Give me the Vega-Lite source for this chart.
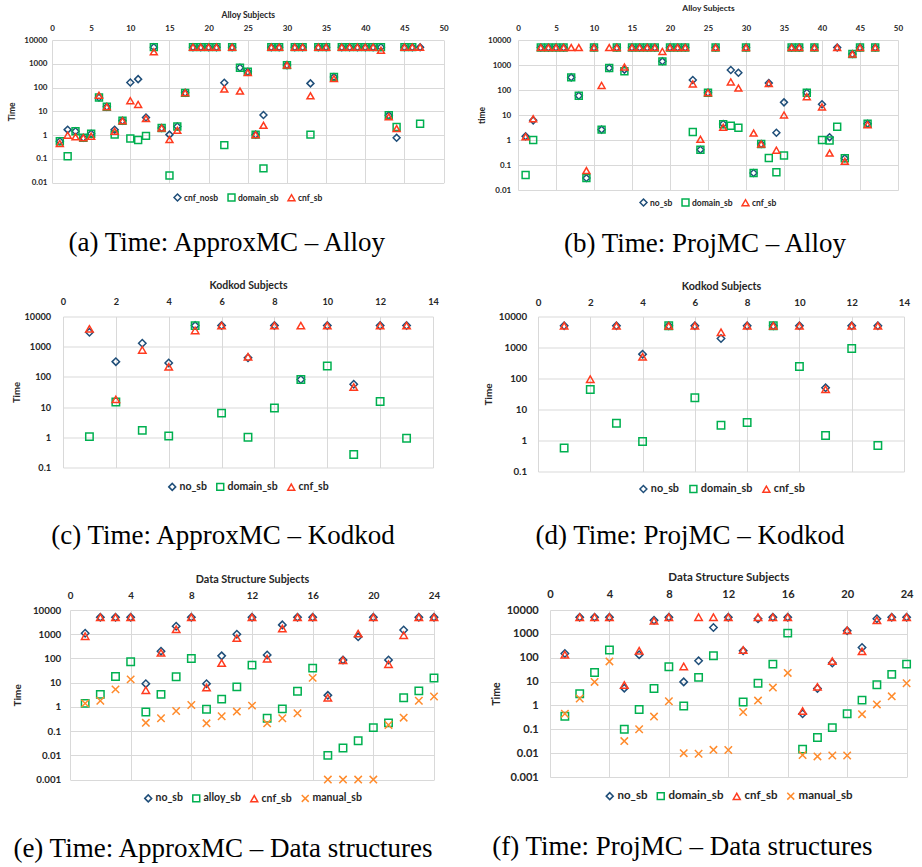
{
"$schema": "https://vega.github.io/schema/vega-lite/v6.json",
"background": "white",
"padding": {"left": 0, "top": 3, "right": 5, "bottom": 5},
"datasets": {
"a": [
{"x":1,"s":"cnf_nosb","t":0.55},{"x":2,"s":"cnf_nosb","t":1.7},{"x":3,"s":"cnf_nosb","t":1.45},{"x":4,"s":"cnf_nosb","t":0.78},{"x":5,"s":"cnf_nosb","t":1.15},{"x":6,"s":"cnf_nosb","t":38},{"x":7,"s":"cnf_nosb","t":15.5},{"x":8,"s":"cnf_nosb","t":1.7},{"x":9,"s":"cnf_nosb","t":4},{"x":10,"s":"cnf_nosb","t":163},{"x":11,"s":"cnf_nosb","t":226},{"x":12,"s":"cnf_nosb","t":5.5},{"x":13,"s":"cnf_nosb","t":5000},{"x":14,"s":"cnf_nosb","t":2},{"x":15,"s":"cnf_nosb","t":1.05},{"x":16,"s":"cnf_nosb","t":2.3},{"x":17,"s":"cnf_nosb","t":60},{"x":18,"s":"cnf_nosb","t":5000},{"x":19,"s":"cnf_nosb","t":5000},{"x":20,"s":"cnf_nosb","t":5000},{"x":21,"s":"cnf_nosb","t":5000},{"x":22,"s":"cnf_nosb","t":160},{"x":23,"s":"cnf_nosb","t":5000},{"x":24,"s":"cnf_nosb","t":680},{"x":25,"s":"cnf_nosb","t":460},{"x":26,"s":"cnf_nosb","t":1.05},{"x":27,"s":"cnf_nosb","t":7},{"x":28,"s":"cnf_nosb","t":5000},{"x":29,"s":"cnf_nosb","t":5000},{"x":30,"s":"cnf_nosb","t":880},{"x":31,"s":"cnf_nosb","t":5000},{"x":32,"s":"cnf_nosb","t":5000},{"x":33,"s":"cnf_nosb","t":150},{"x":34,"s":"cnf_nosb","t":5000},{"x":35,"s":"cnf_nosb","t":5000},{"x":36,"s":"cnf_nosb","t":280},{"x":37,"s":"cnf_nosb","t":5000},{"x":38,"s":"cnf_nosb","t":5000},{"x":39,"s":"cnf_nosb","t":5000},{"x":40,"s":"cnf_nosb","t":5000},{"x":41,"s":"cnf_nosb","t":5000},{"x":42,"s":"cnf_nosb","t":5000},{"x":43,"s":"cnf_nosb","t":6.8},{"x":44,"s":"cnf_nosb","t":0.77},{"x":45,"s":"cnf_nosb","t":5000},{"x":46,"s":"cnf_nosb","t":5000},{"x":47,"s":"cnf_nosb","t":5000},
{"x":1,"s":"domain_sb","t":0.55},{"x":2,"s":"domain_sb","t":0.13},{"x":3,"s":"domain_sb","t":1.45},{"x":4,"s":"domain_sb","t":0.78},{"x":5,"s":"domain_sb","t":1.15},{"x":6,"s":"domain_sb","t":38},{"x":7,"s":"domain_sb","t":15.5},{"x":8,"s":"domain_sb","t":1.05},{"x":9,"s":"domain_sb","t":4},{"x":10,"s":"domain_sb","t":0.72},{"x":11,"s":"domain_sb","t":0.62},{"x":12,"s":"domain_sb","t":0.93},{"x":13,"s":"domain_sb","t":5000},{"x":14,"s":"domain_sb","t":2},{"x":15,"s":"domain_sb","t":0.02},{"x":16,"s":"domain_sb","t":2.3},{"x":17,"s":"domain_sb","t":60},{"x":18,"s":"domain_sb","t":5000},{"x":19,"s":"domain_sb","t":5000},{"x":20,"s":"domain_sb","t":5000},{"x":21,"s":"domain_sb","t":5000},{"x":22,"s":"domain_sb","t":0.38},{"x":23,"s":"domain_sb","t":5000},{"x":24,"s":"domain_sb","t":680},{"x":25,"s":"domain_sb","t":460},{"x":26,"s":"domain_sb","t":1.05},{"x":27,"s":"domain_sb","t":0.04},{"x":28,"s":"domain_sb","t":5000},{"x":29,"s":"domain_sb","t":5000},{"x":30,"s":"domain_sb","t":880},{"x":31,"s":"domain_sb","t":5000},{"x":32,"s":"domain_sb","t":5000},{"x":33,"s":"domain_sb","t":1.05},{"x":34,"s":"domain_sb","t":5000},{"x":35,"s":"domain_sb","t":5000},{"x":36,"s":"domain_sb","t":280},{"x":37,"s":"domain_sb","t":5000},{"x":38,"s":"domain_sb","t":5000},{"x":39,"s":"domain_sb","t":5000},{"x":40,"s":"domain_sb","t":5000},{"x":41,"s":"domain_sb","t":5000},{"x":42,"s":"domain_sb","t":5000},{"x":43,"s":"domain_sb","t":6.8},{"x":44,"s":"domain_sb","t":2.2},{"x":45,"s":"domain_sb","t":5000},{"x":46,"s":"domain_sb","t":5000},{"x":47,"s":"domain_sb","t":3},
{"x":1,"s":"cnf_sb","t":0.45},{"x":2,"s":"cnf_sb","t":1},{"x":3,"s":"cnf_sb","t":0.85},{"x":4,"s":"cnf_sb","t":0.78},{"x":5,"s":"cnf_sb","t":0.9},{"x":6,"s":"cnf_sb","t":48},{"x":7,"s":"cnf_sb","t":15.5},{"x":8,"s":"cnf_sb","t":1.45},{"x":9,"s":"cnf_sb","t":4},{"x":10,"s":"cnf_sb","t":28},{"x":11,"s":"cnf_sb","t":19.5},{"x":12,"s":"cnf_sb","t":5},{"x":13,"s":"cnf_sb","t":3200},{"x":14,"s":"cnf_sb","t":2},{"x":15,"s":"cnf_sb","t":0.65},{"x":16,"s":"cnf_sb","t":1.6},{"x":17,"s":"cnf_sb","t":60},{"x":18,"s":"cnf_sb","t":5000},{"x":19,"s":"cnf_sb","t":5000},{"x":20,"s":"cnf_sb","t":5000},{"x":21,"s":"cnf_sb","t":5000},{"x":22,"s":"cnf_sb","t":86},{"x":23,"s":"cnf_sb","t":5000},{"x":24,"s":"cnf_sb","t":71},{"x":25,"s":"cnf_sb","t":430},{"x":26,"s":"cnf_sb","t":1.05},{"x":27,"s":"cnf_sb","t":2.6},{"x":28,"s":"cnf_sb","t":5000},{"x":29,"s":"cnf_sb","t":5000},{"x":30,"s":"cnf_sb","t":880},{"x":31,"s":"cnf_sb","t":5000},{"x":32,"s":"cnf_sb","t":5000},{"x":33,"s":"cnf_sb","t":45},{"x":34,"s":"cnf_sb","t":5000},{"x":35,"s":"cnf_sb","t":5000},{"x":36,"s":"cnf_sb","t":240},{"x":37,"s":"cnf_sb","t":5000},{"x":38,"s":"cnf_sb","t":5000},{"x":39,"s":"cnf_sb","t":5000},{"x":40,"s":"cnf_sb","t":5000},{"x":41,"s":"cnf_sb","t":5000},{"x":42,"s":"cnf_sb","t":3700},{"x":43,"s":"cnf_sb","t":5.9},{"x":44,"s":"cnf_sb","t":1.9},{"x":45,"s":"cnf_sb","t":5000},{"x":46,"s":"cnf_sb","t":5000},{"x":47,"s":"cnf_sb","t":5000}
],
"b": [
{"x":1,"s":"no_sb","t":1.4},{"x":2,"s":"no_sb","t":6.1},{"x":3,"s":"no_sb","t":5000},{"x":4,"s":"no_sb","t":5000},{"x":5,"s":"no_sb","t":5000},{"x":6,"s":"no_sb","t":5000},{"x":7,"s":"no_sb","t":320},{"x":8,"s":"no_sb","t":59},{"x":9,"s":"no_sb","t":0.03},{"x":10,"s":"no_sb","t":5000},{"x":11,"s":"no_sb","t":2.6},{"x":12,"s":"no_sb","t":760},{"x":13,"s":"no_sb","t":5000},{"x":14,"s":"no_sb","t":650},{"x":15,"s":"no_sb","t":5000},{"x":16,"s":"no_sb","t":5000},{"x":17,"s":"no_sb","t":5000},{"x":18,"s":"no_sb","t":5000},{"x":19,"s":"no_sb","t":1400},{"x":20,"s":"no_sb","t":5000},{"x":21,"s":"no_sb","t":5000},{"x":22,"s":"no_sb","t":5000},{"x":23,"s":"no_sb","t":250},{"x":24,"s":"no_sb","t":0.41},{"x":25,"s":"no_sb","t":78},{"x":26,"s":"no_sb","t":5000},{"x":27,"s":"no_sb","t":4.4},{"x":28,"s":"no_sb","t":630},{"x":29,"s":"no_sb","t":490},{"x":30,"s":"no_sb","t":5000},{"x":31,"s":"no_sb","t":0.048},{"x":32,"s":"no_sb","t":0.69},{"x":33,"s":"no_sb","t":190},{"x":34,"s":"no_sb","t":1.96},{"x":35,"s":"no_sb","t":32},{"x":36,"s":"no_sb","t":5000},{"x":37,"s":"no_sb","t":5000},{"x":38,"s":"no_sb","t":78},{"x":39,"s":"no_sb","t":5000},{"x":40,"s":"no_sb","t":27},{"x":41,"s":"no_sb","t":1.3},{"x":42,"s":"no_sb","t":5000},{"x":43,"s":"no_sb","t":0.185},{"x":44,"s":"no_sb","t":2750},{"x":45,"s":"no_sb","t":5000},{"x":46,"s":"no_sb","t":4.5},{"x":47,"s":"no_sb","t":5000},
{"x":1,"s":"domain_sb","t":0.04},{"x":2,"s":"domain_sb","t":1},{"x":3,"s":"domain_sb","t":5000},{"x":4,"s":"domain_sb","t":5000},{"x":5,"s":"domain_sb","t":5000},{"x":6,"s":"domain_sb","t":5000},{"x":7,"s":"domain_sb","t":320},{"x":8,"s":"domain_sb","t":59},{"x":9,"s":"domain_sb","t":0.03},{"x":10,"s":"domain_sb","t":5000},{"x":11,"s":"domain_sb","t":2.6},{"x":12,"s":"domain_sb","t":760},{"x":13,"s":"domain_sb","t":5000},{"x":14,"s":"domain_sb","t":560},{"x":15,"s":"domain_sb","t":5000},{"x":16,"s":"domain_sb","t":5000},{"x":17,"s":"domain_sb","t":5000},{"x":18,"s":"domain_sb","t":5000},{"x":19,"s":"domain_sb","t":1400},{"x":20,"s":"domain_sb","t":5000},{"x":21,"s":"domain_sb","t":5000},{"x":22,"s":"domain_sb","t":5000},{"x":23,"s":"domain_sb","t":2.1},{"x":24,"s":"domain_sb","t":0.41},{"x":25,"s":"domain_sb","t":78},{"x":26,"s":"domain_sb","t":5000},{"x":27,"s":"domain_sb","t":4.3},{"x":28,"s":"domain_sb","t":3.7},{"x":29,"s":"domain_sb","t":3.1},{"x":30,"s":"domain_sb","t":5000},{"x":31,"s":"domain_sb","t":0.048},{"x":32,"s":"domain_sb","t":0.69},{"x":33,"s":"domain_sb","t":0.19},{"x":34,"s":"domain_sb","t":0.051},{"x":35,"s":"domain_sb","t":0.24},{"x":36,"s":"domain_sb","t":5000},{"x":37,"s":"domain_sb","t":5000},{"x":38,"s":"domain_sb","t":78},{"x":39,"s":"domain_sb","t":5000},{"x":40,"s":"domain_sb","t":1},{"x":41,"s":"domain_sb","t":0.95},{"x":42,"s":"domain_sb","t":3.4},{"x":43,"s":"domain_sb","t":0.185},{"x":44,"s":"domain_sb","t":2750},{"x":45,"s":"domain_sb","t":5000},{"x":46,"s":"domain_sb","t":4.5},{"x":47,"s":"domain_sb","t":5000},
{"x":1,"s":"cnf_sb","t":1.35},{"x":2,"s":"cnf_sb","t":7.1},{"x":3,"s":"cnf_sb","t":5000},{"x":4,"s":"cnf_sb","t":5000},{"x":5,"s":"cnf_sb","t":5000},{"x":6,"s":"cnf_sb","t":5000},{"x":7,"s":"cnf_sb","t":5000},{"x":8,"s":"cnf_sb","t":5000},{"x":9,"s":"cnf_sb","t":0.06},{"x":10,"s":"cnf_sb","t":5000},{"x":11,"s":"cnf_sb","t":153},{"x":12,"s":"cnf_sb","t":5000},{"x":13,"s":"cnf_sb","t":5000},{"x":14,"s":"cnf_sb","t":830},{"x":15,"s":"cnf_sb","t":5000},{"x":16,"s":"cnf_sb","t":5000},{"x":17,"s":"cnf_sb","t":5000},{"x":18,"s":"cnf_sb","t":5000},{"x":19,"s":"cnf_sb","t":3500},{"x":20,"s":"cnf_sb","t":5000},{"x":21,"s":"cnf_sb","t":5000},{"x":22,"s":"cnf_sb","t":5000},{"x":23,"s":"cnf_sb","t":175},{"x":24,"s":"cnf_sb","t":1.06},{"x":25,"s":"cnf_sb","t":78},{"x":26,"s":"cnf_sb","t":5000},{"x":27,"s":"cnf_sb","t":3.2},{"x":28,"s":"cnf_sb","t":210},{"x":29,"s":"cnf_sb","t":120},{"x":30,"s":"cnf_sb","t":5000},{"x":31,"s":"cnf_sb","t":1.9},{"x":32,"s":"cnf_sb","t":0.69},{"x":33,"s":"cnf_sb","t":180},{"x":34,"s":"cnf_sb","t":0.39},{"x":35,"s":"cnf_sb","t":10},{"x":36,"s":"cnf_sb","t":5000},{"x":37,"s":"cnf_sb","t":5000},{"x":38,"s":"cnf_sb","t":54},{"x":39,"s":"cnf_sb","t":5000},{"x":40,"s":"cnf_sb","t":21},{"x":41,"s":"cnf_sb","t":0.3},{"x":42,"s":"cnf_sb","t":5000},{"x":43,"s":"cnf_sb","t":0.14},{"x":44,"s":"cnf_sb","t":2750},{"x":45,"s":"cnf_sb","t":5000},{"x":46,"s":"cnf_sb","t":4.1},{"x":47,"s":"cnf_sb","t":5000}
],
"c": [
{"x":1,"s":"no_sb","t":3000},{"x":2,"s":"no_sb","t":320},{"x":3,"s":"no_sb","t":1300},{"x":4,"s":"no_sb","t":290},{"x":5,"s":"no_sb","t":5000},{"x":6,"s":"no_sb","t":5000},{"x":7,"s":"no_sb","t":430},{"x":8,"s":"no_sb","t":5000},{"x":9,"s":"no_sb","t":82},{"x":10,"s":"no_sb","t":5000},{"x":11,"s":"no_sb","t":57},{"x":12,"s":"no_sb","t":5000},{"x":13,"s":"no_sb","t":5000},
{"x":1,"s":"domain_sb","t":1.05},{"x":2,"s":"domain_sb","t":14.7},{"x":3,"s":"domain_sb","t":1.7},{"x":4,"s":"domain_sb","t":1.1},{"x":5,"s":"domain_sb","t":5000},{"x":6,"s":"domain_sb","t":6.3},{"x":7,"s":"domain_sb","t":1},{"x":8,"s":"domain_sb","t":9.3},{"x":9,"s":"domain_sb","t":82},{"x":10,"s":"domain_sb","t":230},{"x":11,"s":"domain_sb","t":0.27},{"x":12,"s":"domain_sb","t":15.3},{"x":13,"s":"domain_sb","t":0.93},
{"x":1,"s":"cnf_sb","t":3900},{"x":2,"s":"cnf_sb","t":18},{"x":3,"s":"cnf_sb","t":780},{"x":4,"s":"cnf_sb","t":215},{"x":5,"s":"cnf_sb","t":3450},{"x":6,"s":"cnf_sb","t":5000},{"x":7,"s":"cnf_sb","t":465},{"x":8,"s":"cnf_sb","t":5000},{"x":9,"s":"cnf_sb","t":5000},{"x":10,"s":"cnf_sb","t":5000},{"x":11,"s":"cnf_sb","t":46},{"x":12,"s":"cnf_sb","t":5000},{"x":13,"s":"cnf_sb","t":5000}
],
"d": [
{"x":1,"s":"no_sb","t":5000},{"x":3,"s":"no_sb","t":5000},{"x":4,"s":"no_sb","t":610},{"x":5,"s":"no_sb","t":5000},{"x":6,"s":"no_sb","t":5000},{"x":7,"s":"no_sb","t":1950},{"x":8,"s":"no_sb","t":5000},{"x":9,"s":"no_sb","t":5000},{"x":10,"s":"no_sb","t":5000},{"x":11,"s":"no_sb","t":50},{"x":12,"s":"no_sb","t":5000},{"x":13,"s":"no_sb","t":5000},
{"x":1,"s":"domain_sb","t":0.57},{"x":2,"s":"domain_sb","t":44},{"x":3,"s":"domain_sb","t":3.6},{"x":4,"s":"domain_sb","t":0.93},{"x":5,"s":"domain_sb","t":5000},{"x":6,"s":"domain_sb","t":24},{"x":7,"s":"domain_sb","t":3.1},{"x":8,"s":"domain_sb","t":3.8},{"x":9,"s":"domain_sb","t":5000},{"x":10,"s":"domain_sb","t":243},{"x":11,"s":"domain_sb","t":1.45},{"x":12,"s":"domain_sb","t":930},{"x":13,"s":"domain_sb","t":0.69},
{"x":1,"s":"cnf_sb","t":5000},{"x":2,"s":"cnf_sb","t":95},{"x":3,"s":"cnf_sb","t":5000},{"x":4,"s":"cnf_sb","t":500},{"x":5,"s":"cnf_sb","t":5000},{"x":6,"s":"cnf_sb","t":5000},{"x":7,"s":"cnf_sb","t":3100},{"x":8,"s":"cnf_sb","t":5000},{"x":9,"s":"cnf_sb","t":5000},{"x":10,"s":"cnf_sb","t":5000},{"x":11,"s":"cnf_sb","t":45},{"x":12,"s":"cnf_sb","t":5000},{"x":13,"s":"cnf_sb","t":5000}
],
"e": [
{"x":1,"s":"no_sb","t":1100},{"x":2,"s":"no_sb","t":5000},{"x":3,"s":"no_sb","t":5000},{"x":4,"s":"no_sb","t":5000},{"x":5,"s":"no_sb","t":9.1},{"x":6,"s":"no_sb","t":200},{"x":7,"s":"no_sb","t":2140},{"x":8,"s":"no_sb","t":5000},{"x":9,"s":"no_sb","t":9.1},{"x":10,"s":"no_sb","t":128},{"x":11,"s":"no_sb","t":1000},{"x":12,"s":"no_sb","t":5000},{"x":13,"s":"no_sb","t":140},{"x":14,"s":"no_sb","t":2430},{"x":15,"s":"no_sb","t":5000},{"x":16,"s":"no_sb","t":5000},{"x":17,"s":"no_sb","t":3},{"x":18,"s":"no_sb","t":87},{"x":19,"s":"no_sb","t":780},{"x":20,"s":"no_sb","t":5000},{"x":21,"s":"no_sb","t":87},{"x":22,"s":"no_sb","t":1500},{"x":23,"s":"no_sb","t":5000},{"x":24,"s":"no_sb","t":5000},
{"x":1,"s":"alloy_sb","t":1.4},{"x":2,"s":"alloy_sb","t":3.3},{"x":3,"s":"alloy_sb","t":18},{"x":4,"s":"alloy_sb","t":73},{"x":5,"s":"alloy_sb","t":0.62},{"x":6,"s":"alloy_sb","t":3.3},{"x":7,"s":"alloy_sb","t":17.5},{"x":8,"s":"alloy_sb","t":100},{"x":9,"s":"alloy_sb","t":0.8},{"x":10,"s":"alloy_sb","t":2.1},{"x":11,"s":"alloy_sb","t":6.7},{"x":12,"s":"alloy_sb","t":53},{"x":13,"s":"alloy_sb","t":0.34},{"x":14,"s":"alloy_sb","t":0.83},{"x":15,"s":"alloy_sb","t":4.4},{"x":16,"s":"alloy_sb","t":40},{"x":17,"s":"alloy_sb","t":0.01},{"x":18,"s":"alloy_sb","t":0.02},{"x":19,"s":"alloy_sb","t":0.04},{"x":20,"s":"alloy_sb","t":0.14},{"x":21,"s":"alloy_sb","t":0.22},{"x":22,"s":"alloy_sb","t":2.4},{"x":23,"s":"alloy_sb","t":4.6},{"x":24,"s":"alloy_sb","t":15.6},
{"x":1,"s":"cnf_sb","t":830},{"x":2,"s":"cnf_sb","t":5000},{"x":3,"s":"cnf_sb","t":5000},{"x":4,"s":"cnf_sb","t":5000},{"x":5,"s":"cnf_sb","t":4.9},{"x":6,"s":"cnf_sb","t":170},{"x":7,"s":"cnf_sb","t":1600},{"x":8,"s":"cnf_sb","t":5000},{"x":9,"s":"cnf_sb","t":6.3},{"x":10,"s":"cnf_sb","t":64},{"x":11,"s":"cnf_sb","t":690},{"x":12,"s":"cnf_sb","t":5000},{"x":13,"s":"cnf_sb","t":98},{"x":14,"s":"cnf_sb","t":1710},{"x":15,"s":"cnf_sb","t":5000},{"x":16,"s":"cnf_sb","t":5000},{"x":17,"s":"cnf_sb","t":2.4},{"x":18,"s":"cnf_sb","t":85},{"x":19,"s":"cnf_sb","t":1060},{"x":20,"s":"cnf_sb","t":5000},{"x":21,"s":"cnf_sb","t":58},{"x":22,"s":"cnf_sb","t":910},{"x":23,"s":"cnf_sb","t":5000},{"x":24,"s":"cnf_sb","t":5000},
{"x":1,"s":"manual_sb","t":1.4},{"x":2,"s":"manual_sb","t":1.8},{"x":3,"s":"manual_sb","t":5.3},{"x":4,"s":"manual_sb","t":13.7},{"x":5,"s":"manual_sb","t":0.22},{"x":6,"s":"manual_sb","t":0.34},{"x":7,"s":"manual_sb","t":0.68},{"x":8,"s":"manual_sb","t":1.2},{"x":9,"s":"manual_sb","t":0.21},{"x":10,"s":"manual_sb","t":0.41},{"x":11,"s":"manual_sb","t":0.64},{"x":12,"s":"manual_sb","t":1.13},{"x":13,"s":"manual_sb","t":0.21},{"x":14,"s":"manual_sb","t":0.34},{"x":15,"s":"manual_sb","t":0.55},{"x":16,"s":"manual_sb","t":15.8},{"x":17,"s":"manual_sb","t":0.001},{"x":18,"s":"manual_sb","t":0.001},{"x":19,"s":"manual_sb","t":0.001},{"x":20,"s":"manual_sb","t":0.001},{"x":21,"s":"manual_sb","t":0.18},{"x":22,"s":"manual_sb","t":0.36},{"x":23,"s":"manual_sb","t":1.8},{"x":24,"s":"manual_sb","t":2.7}
],
"f": [
{"x":1,"s":"no_sb","t":150},{"x":2,"s":"no_sb","t":5000},{"x":3,"s":"no_sb","t":5000},{"x":4,"s":"no_sb","t":5000},{"x":5,"s":"no_sb","t":5.3},{"x":6,"s":"no_sb","t":134},{"x":7,"s":"no_sb","t":3700},{"x":8,"s":"no_sb","t":5000},{"x":9,"s":"no_sb","t":9.7},{"x":10,"s":"no_sb","t":74},{"x":11,"s":"no_sb","t":1840},{"x":12,"s":"no_sb","t":5000},{"x":13,"s":"no_sb","t":196},{"x":14,"s":"no_sb","t":4300},{"x":15,"s":"no_sb","t":5000},{"x":16,"s":"no_sb","t":5000},{"x":17,"s":"no_sb","t":0.45},{"x":18,"s":"no_sb","t":5.1},{"x":19,"s":"no_sb","t":60},{"x":20,"s":"no_sb","t":1340},{"x":21,"s":"no_sb","t":270},{"x":22,"s":"no_sb","t":4300},{"x":23,"s":"no_sb","t":5000},{"x":24,"s":"no_sb","t":5000},
{"x":1,"s":"domain_sb","t":0.35},{"x":2,"s":"domain_sb","t":3.1},{"x":3,"s":"domain_sb","t":24},{"x":4,"s":"domain_sb","t":210},{"x":5,"s":"domain_sb","t":0.1},{"x":6,"s":"domain_sb","t":0.68},{"x":7,"s":"domain_sb","t":5.1},{"x":8,"s":"domain_sb","t":42},{"x":9,"s":"domain_sb","t":0.94},{"x":10,"s":"domain_sb","t":15},{"x":11,"s":"domain_sb","t":120},{"x":13,"s":"domain_sb","t":1.4},{"x":14,"s":"domain_sb","t":8.5},{"x":15,"s":"domain_sb","t":54},{"x":16,"s":"domain_sb","t":1070},{"x":17,"s":"domain_sb","t":0.0147},{"x":18,"s":"domain_sb","t":0.045},{"x":19,"s":"domain_sb","t":0.117},{"x":20,"s":"domain_sb","t":0.45},{"x":21,"s":"domain_sb","t":1.67},{"x":22,"s":"domain_sb","t":7.3},{"x":23,"s":"domain_sb","t":20},{"x":24,"s":"domain_sb","t":54},
{"x":1,"s":"cnf_sb","t":134},{"x":2,"s":"cnf_sb","t":5000},{"x":3,"s":"cnf_sb","t":5000},{"x":4,"s":"cnf_sb","t":5000},{"x":5,"s":"cnf_sb","t":7.2},{"x":6,"s":"cnf_sb","t":196},{"x":7,"s":"cnf_sb","t":3500},{"x":8,"s":"cnf_sb","t":5000},{"x":9,"s":"cnf_sb","t":43},{"x":10,"s":"cnf_sb","t":5000},{"x":11,"s":"cnf_sb","t":5000},{"x":12,"s":"cnf_sb","t":5000},{"x":13,"s":"cnf_sb","t":210},{"x":14,"s":"cnf_sb","t":5000},{"x":15,"s":"cnf_sb","t":5000},{"x":16,"s":"cnf_sb","t":5000},{"x":17,"s":"cnf_sb","t":0.58},{"x":18,"s":"cnf_sb","t":6},{"x":19,"s":"cnf_sb","t":72},{"x":20,"s":"cnf_sb","t":1400},{"x":21,"s":"cnf_sb","t":185},{"x":22,"s":"cnf_sb","t":3700},{"x":23,"s":"cnf_sb","t":5000},{"x":24,"s":"cnf_sb","t":5000},
{"x":1,"s":"manual_sb","t":0.45},{"x":2,"s":"manual_sb","t":1.96},{"x":3,"s":"manual_sb","t":9.7},{"x":4,"s":"manual_sb","t":70},{"x":5,"s":"manual_sb","t":0.032},{"x":6,"s":"manual_sb","t":0.1},{"x":7,"s":"manual_sb","t":0.34},{"x":8,"s":"manual_sb","t":1.5},{"x":9,"s":"manual_sb","t":0.01},{"x":10,"s":"manual_sb","t":0.0094},{"x":11,"s":"manual_sb","t":0.0138},{"x":12,"s":"manual_sb","t":0.0135},{"x":13,"s":"manual_sb","t":0.53},{"x":14,"s":"manual_sb","t":1.6},{"x":15,"s":"manual_sb","t":5.6},{"x":16,"s":"manual_sb","t":23},{"x":17,"s":"manual_sb","t":0.0083},{"x":18,"s":"manual_sb","t":0.0073},{"x":19,"s":"manual_sb","t":0.008},{"x":20,"s":"manual_sb","t":0.008},{"x":21,"s":"manual_sb","t":0.43},{"x":22,"s":"manual_sb","t":1.1},{"x":23,"s":"manual_sb","t":2.4},{"x":24,"s":"manual_sb","t":8.5}
]
},
"concat": [
{"hconcat": [
{"width": 51.7, "height": 10, "data": {"values": []}, "mark": {"type": "point", "opacity": 0}, "encoding": {}},
{"width": 391.6, "height": 142.7, "data": {"name": "a"},
 "title": {"text": "(a) Time: ApproxMC – Alloy", "offset": 26, "dx": -21},
 "mark": {"type": "point", "size": 48},
 "encoding": {
  "x": {"field": "x", "type": "quantitative", "scale": {"domain": [0, 50], "nice": false, "zero": false},
   "axis": {"orient": "top", "values": [0,5,10,15,20,25,30,35,40,45,50], "title": "Alloy Subjects", "labelFontSize": 8, "titleFontSize": 8.6, "labelPadding": 7.5, "titlePadding": 5}},
  "y": {"field": "t", "type": "quantitative", "scale": {"type": "log", "domain": [0.01, 10000], "nice": false},
   "axis": {"values": [0.01,0.1,1,10,100,1000,10000], "format": "~g", "title": "Time", "labelFontSize": 8, "titleFontSize": 8.5, "labelPadding": 5, "titlePadding": 7}},
  "color": {"field": "s", "type": "nominal", "scale": {"domain": ["cnf_nosb","domain_sb","cnf_sb"], "range": ["#1F4E79","#00B050","#FF3B1F"]},
   "legend": {"title": null, "labelFontSize": 8.5, "offset": 10}},
  "shape": {"field": "s", "type": "nominal", "scale": {"domain": ["cnf_nosb","domain_sb","cnf_sb"], "range": ["diamond","square","triangle-up"]},
   "legend": {"title": null, "labelFontSize": 8.5, "offset": 10}}
 }},
{"width": 73.7, "height": 10, "data": {"values": []}, "mark": {"type": "point", "opacity": 0}, "encoding": {}},
{"width": 380, "height": 150, "data": {"name": "b"},
 "title": {"text": "(b) Time: ProjMC – Alloy", "offset": 22, "dx": -3},
 "mark": {"type": "point", "size": 48},
 "encoding": {
  "x": {"field": "x", "type": "quantitative", "scale": {"domain": [0, 50], "nice": false, "zero": false},
   "axis": {"orient": "top", "values": [0,5,10,15,20,25,30,35,40,45,50], "title": "Alloy Subjects", "labelFontSize": 8, "titleFontSize": 8.4, "labelPadding": 7.5, "titlePadding": 12}},
  "y": {"field": "t", "type": "quantitative", "scale": {"type": "log", "domain": [0.01, 10000], "nice": false},
   "axis": {"values": [0.01,0.1,1,10,100,1000,10000], "format": "~g", "title": "time", "labelFontSize": 8, "titleFontSize": 8.5, "labelPadding": 7.3, "titlePadding": 1}},
  "color": {"field": "s", "type": "nominal", "scale": {"domain": ["no_sb","domain_sb","cnf_sb"], "range": ["#1F4E79","#00B050","#FF3B1F"]},
   "legend": {"title": null, "labelFontSize": 8.5, "offset": 8}},
  "shape": {"field": "s", "type": "nominal", "scale": {"domain": ["no_sb","domain_sb","cnf_sb"], "range": ["diamond","square","triangle-up"]},
   "legend": {"title": null, "labelFontSize": 8.5, "offset": 8}}
 }}
], "spacing": 0, "bounds": "flush", "resolve": {"scale": {"color": "independent", "shape": "independent"}}},
{"hconcat": [
{"width": 62.3, "height": 10, "data": {"values": []}, "mark": {"type": "point", "opacity": 0}, "encoding": {}},
{"width": 370, "height": 151, "data": {"name": "c"},
 "title": {"text": "(c) Time: ApproxMC – Kodkod", "offset": 29, "dx": -25},
 "mark": {"type": "point", "size": 55},
 "encoding": {
  "x": {"field": "x", "type": "quantitative", "scale": {"domain": [0, 14], "nice": false, "zero": false},
   "axis": {"orient": "top", "values": [0,2,4,6,8,10,12,14], "title": "Kodkod Subjects", "labelFontSize": 9.2, "titleFontSize": 10.5, "labelPadding": 9.9, "titlePadding": 7}},
  "y": {"field": "t", "type": "quantitative", "scale": {"type": "log", "domain": [0.1, 10000], "nice": false},
   "axis": {"values": [0.1,1,10,100,1000,10000], "format": "~g", "title": "Time", "labelFontSize": 9.2, "titleFontSize": 9.5, "labelPadding": 12.3, "titlePadding": 2.5}},
  "color": {"field": "s", "type": "nominal", "scale": {"domain": ["no_sb","domain_sb","cnf_sb"], "range": ["#1F4E79","#00B050","#FF3B1F"]},
   "legend": {"title": null, "labelFontSize": 10.5, "offset": 14}},
  "shape": {"field": "s", "type": "nominal", "scale": {"domain": ["no_sb","domain_sb","cnf_sb"], "range": ["diamond","square","triangle-up"]},
   "legend": {"title": null, "labelFontSize": 10.5, "offset": 14}}
 }},
{"width": 104.4, "height": 10, "data": {"values": []}, "mark": {"type": "point", "opacity": 0}, "encoding": {}},
{"width": 366, "height": 155, "data": {"name": "d"},
 "title": {"text": "(d) Time: ProjMC – Kodkod", "offset": 27, "dx": -31},
 "mark": {"type": "point", "size": 55},
 "encoding": {
  "x": {"field": "x", "type": "quantitative", "scale": {"domain": [0, 14], "nice": false, "zero": false},
   "axis": {"orient": "top", "values": [0,2,4,6,8,10,12,14], "title": "Kodkod Subjects", "labelFontSize": 9.75, "titleFontSize": 10.7, "labelPadding": 9.5, "titlePadding": 6}},
  "y": {"field": "t", "type": "quantitative", "scale": {"type": "log", "domain": [0.1, 10000], "nice": false},
   "axis": {"values": [0.1,1,10,100,1000,10000], "format": "~g", "title": "Time", "labelFontSize": 9.75, "titleFontSize": 10, "labelPadding": 11.4, "titlePadding": 5}},
  "color": {"field": "s", "type": "nominal", "scale": {"domain": ["no_sb","domain_sb","cnf_sb"], "range": ["#1F4E79","#00B050","#FF3B1F"]},
   "legend": {"title": null, "labelFontSize": 10.8, "offset": 12}},
  "shape": {"field": "s", "type": "nominal", "scale": {"domain": ["no_sb","domain_sb","cnf_sb"], "range": ["diamond","square","triangle-up"]},
   "legend": {"title": null, "labelFontSize": 10.8, "offset": 12}}
 }}
], "spacing": 0, "bounds": "flush", "resolve": {"scale": {"color": "independent", "shape": "independent"}}},
{"hconcat": [
{"width": 69.3, "height": 10, "data": {"values": []}, "mark": {"type": "point", "opacity": 0}, "encoding": {}},
{"width": 364, "height": 169.6, "data": {"name": "e"},
 "title": {"text": "(e) Time: ApproxMC – Data structures", "offset": 31, "dx": -29},
 "mark": {"type": "point", "size": 55},
 "encoding": {
  "x": {"field": "x", "type": "quantitative", "scale": {"domain": [0, 24], "nice": false, "zero": false},
   "axis": {"orient": "top", "values": [0,4,8,12,16,20,24], "title": "Data Structure Subjects", "labelFontSize": 9.75, "titleFontSize": 10.8, "labelPadding": 9.2, "titlePadding": 6}},
  "y": {"field": "t", "type": "quantitative", "scale": {"type": "log", "domain": [0.001, 10000], "nice": false},
   "axis": {"values": [0.001,0.01,0.1,1,10,100,1000,10000], "format": "~g", "title": "Time", "labelFontSize": 9.75, "titleFontSize": 10, "labelPadding": 9.3, "titlePadding": 10}},
  "color": {"field": "s", "type": "nominal", "scale": {"domain": ["no_sb","alloy_sb","cnf_sb","manual_sb"], "range": ["#1F4E79","#00B050","#FF3B1F","#FF8B2C"]},
   "legend": {"title": null, "labelFontSize": 10.5, "offset": 13}},
  "shape": {"field": "s", "type": "nominal", "scale": {"domain": ["no_sb","alloy_sb","cnf_sb","manual_sb"], "range": ["diamond","square","triangle-up","M-1,-1L1,1M1,-1L-1,1"]},
   "legend": {"title": null, "labelFontSize": 10.5, "offset": 13}}
 }},
{"width": 115.4, "height": 10, "data": {"values": []}, "mark": {"type": "point", "opacity": 0}, "encoding": {}},
{"width": 356.6, "height": 167, "data": {"name": "f"},
 "title": {"text": "(f) Time: ProjMC – Data structures", "offset": 31, "dx": -46},
 "mark": {"type": "point", "size": 55},
 "encoding": {
  "x": {"field": "x", "type": "quantitative", "scale": {"domain": [0, 24], "nice": false, "zero": false},
   "axis": {"orient": "top", "values": [0,4,8,12,16,20,24], "title": "Data Structure Subjects", "labelFontSize": 11.1, "titleFontSize": 11.5, "labelPadding": 10.2, "titlePadding": 6}},
  "y": {"field": "t", "type": "quantitative", "scale": {"type": "log", "domain": [0.001, 10000], "nice": false},
   "axis": {"values": [0.001,0.01,0.1,1,10,100,1000,10000], "format": "~g", "title": "Time", "labelFontSize": 11.1, "titleFontSize": 10.5, "labelPadding": 11.7, "titlePadding": 4.5}},
  "color": {"field": "s", "type": "nominal", "scale": {"domain": ["no_sb","domain_sb","cnf_sb","manual_sb"], "range": ["#1F4E79","#00B050","#FF3B1F","#FF8B2C"]},
   "legend": {"title": null, "labelFontSize": 11.5, "offset": 13}},
  "shape": {"field": "s", "type": "nominal", "scale": {"domain": ["no_sb","domain_sb","cnf_sb","manual_sb"], "range": ["diamond","square","triangle-up","M-1,-1L1,1M1,-1L-1,1"]},
   "legend": {"title": null, "labelFontSize": 11.5, "offset": 13}}
 }}
], "spacing": 0, "bounds": "flush", "resolve": {"scale": {"color": "independent", "shape": "independent"}}}
],
"columns": 1,
"align": "none",
"spacing": 22.5,
"resolve": {"scale": {"color": "independent", "shape": "independent"}},
"config": {
 "view": {"stroke": null},
 "point": {"filled": false, "strokeWidth": 1.5, "opacity": 1},
 "axis": {"grid": true, "gridColor": "#d9d9d9", "gridWidth": 1, "domain": false, "ticks": false, "labelFlush": false, "labelOverlap": false, "labelFont": "Lato", "labelFontWeight": "bold", "labelColor": "#262626", "titleFont": "Lato", "titleFontWeight": "bold", "titleColor": "#262626"},
 "legend": {"orient": "bottom", "direction": "horizontal", "labelFont": "Lato", "labelFontWeight": "bold", "labelColor": "#262626", "symbolStrokeWidth": 1.5, "symbolSize": 48, "labelOffset": 2, "columnPadding": 6, "layout": {"bottom": {"anchor": "middle"}}},
 "title": {"font": "Liberation Serif", "fontSize": 27, "fontWeight": "normal", "color": "#000000", "orient": "bottom", "anchor": "middle"}
}
}
